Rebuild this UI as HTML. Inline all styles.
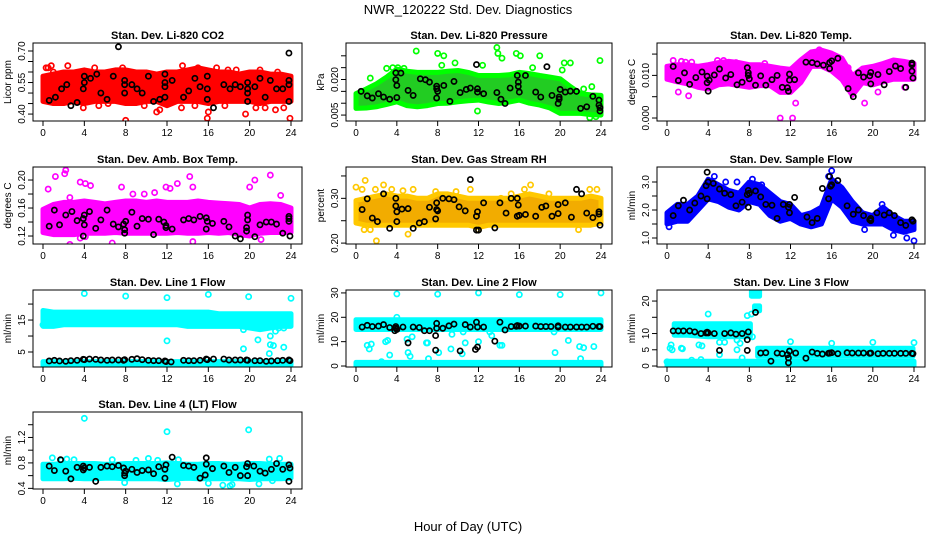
<!DOCTYPE html>
<html><head><meta charset="utf-8"><style>
body{margin:0;background:#fff}
svg{display:block;font-family:"Liberation Sans",sans-serif}
</style></head><body>
<svg id="c" width="936" height="540" viewBox="0 0 936 540">
<text x="468" y="14" font-size="13" text-anchor="middle">NWR_120222  Std. Dev. Diagnostics</text>
<text x="468" y="531" font-size="13" text-anchor="middle">Hour of Day (UTC)</text>
</svg>
<script>
// ---------- data ----------
const hours25=[0,1,2,3,4,5,6,7,8,9,10,11,12,13,14,15,16,17,18,19,20,21,22,23,24];
const xTicks=[0,4,8,12,16,20,24];

const co2Lo=[0.46,0.45,0.45,0.46,0.45,0.46,0.46,0.46,0.45,0.45,0.46,0.46,0.44,0.46,0.46,0.46,0.45,0.46,0.46,0.46,0.46,0.45,0.46,0.46,0.46];
const co2Hi=[0.58,0.59,0.60,0.60,0.61,0.60,0.60,0.61,0.61,0.60,0.60,0.59,0.60,0.60,0.61,0.62,0.61,0.60,0.60,0.59,0.60,0.60,0.59,0.59,0.58];
const co2OutT=[0.2,0.3,0.5,0.8,1.0,2.4,3.9,5.0,5.4,6.3,7.7,8.0,9.8,11.0,11.3,13.5,13.4,14.7,15.0,15.9,16.0,16.8,17.6,17.9,18.7,19.6,20.6,21.0,21.5,22.5,23.3,23.9,22.7];
const co2OutV=[0.47,0.62,0.62,0.63,0.60,0.63,0.43,0.62,0.44,0.45,0.62,0.37,0.44,0.41,0.42,0.63,0.43,0.44,0.62,0.38,0.41,0.62,0.44,0.61,0.61,0.40,0.43,0.61,0.43,0.42,0.43,0.38,0.60];
const co2BT=[0.6,1.2,1.8,2.3,2.7,3.3,3.9,4.0,4.0,4.6,5.2,5.6,6.2,6.8,7.3,7.9,7.9,7.9,8.6,9.1,9.6,10.2,10.7,11.3,11.8,11.8,11.8,11.8,12.5,13.6,14.1,14.7,15.2,15.9,15.9,15.9,16.5,17.5,18.1,18.6,19.1,19.8,19.8,19.8,19.8,20.5,21.0,21.5,22.0,22.6,23.2,23.8,23.8,23.8,23.8];
const co2BV=[0.465,0.48,0.52,0.54,0.44,0.455,0.52,0.55,0.58,0.57,0.59,0.50,0.47,0.58,0.72,0.56,0.50,0.54,0.54,0.52,0.50,0.58,0.46,0.47,0.48,0.53,0.55,0.59,0.56,0.48,0.51,0.57,0.53,0.58,0.52,0.47,0.43,0.54,0.52,0.54,0.53,0.52,0.50,0.46,0.55,0.53,0.57,0.48,0.56,0.52,0.52,0.69,0.46,0.56,0.54];

const prLo=[0.0078,0.008,0.0085,0.0095,0.0106,0.009,0.0085,0.009,0.0099,0.010,0.0106,0.011,0.0113,0.0105,0.0099,0.0105,0.0113,0.010,0.0092,0.008,0.0057,0.0057,0.0057,0.0052,0.005];
const prHi=[0.014,0.016,0.0182,0.021,0.0244,0.0235,0.023,0.023,0.023,0.0235,0.0238,0.023,0.0217,0.0217,0.0217,0.022,0.023,0.0225,0.0217,0.021,0.0203,0.017,0.014,0.0135,0.0133];
const prOutT=[5.9,8.0,8.6,8.4,9.7,12.4,13.8,13.9,14.3,15.7,16.1,18.0,17.3,20.2,20.4,21.0,23.9,22.3,23.1,11.9,22.9,23.5,3.0,3.6,4.1,4.7,1.4];
const prOutV=[0.032,0.031,0.030,0.026,0.027,0.026,0.0335,0.031,0.029,0.031,0.030,0.030,0.025,0.024,0.027,0.027,0.028,0.016,0.017,0.0067,0.0039,0.0043,0.0247,0.025,0.025,0.0247,0.0206];
const prBT=[0.5,1.1,1.6,2.2,2.7,3.3,3.9,3.9,4.0,4.0,4.4,5.1,5.6,6.3,6.8,7.2,7.9,7.9,8.0,7.9,8.6,9.2,9.6,10.2,10.8,11.2,11.8,11.9,11.9,12.5,13.8,14.2,14.6,15.1,15.8,15.9,15.9,16.0,16.6,17.6,18.1,18.7,19.2,19.8,19.9,19.9,20.0,20.5,21.0,21.6,22.0,22.6,23.2,23.8,23.8,23.9,23.9];
const prBV=[0.0150,0.0131,0.0122,0.0140,0.0126,0.0117,0.0228,0.0199,0.0175,0.0124,0.0227,0.0154,0.0133,0.0203,0.0199,0.0189,0.0172,0.0161,0.0150,0.0122,0.0175,0.0108,0.0192,0.0145,0.0158,0.0164,0.0263,0.0161,0.0147,0.0140,0.0145,0.0117,0.0099,0.0164,0.0217,0.0189,0.0171,0.0147,0.0217,0.0147,0.0126,0.0254,0.0133,0.0099,0.0126,0.0117,0.0158,0.0147,0.0151,0.0150,0.0078,0.0085,0.0129,0.0113,0.0092,0.0067,0.0081];

const tmLo=[0.0091,0.0085,0.0080,0.0072,0.0068,0.0078,0.0080,0.0076,0.0072,0.0076,0.0076,0.0060,0.0060,0.0083,0.0121,0.0121,0.0110,0.0090,0.0053,0.0083,0.0078,0.0085,0.0091,0.0091,0.0091];
const tmHi=[0.0121,0.0125,0.0125,0.0121,0.0125,0.0130,0.0133,0.0130,0.0125,0.0125,0.0121,0.0117,0.0114,0.0136,0.0155,0.0159,0.0152,0.0140,0.0099,0.0117,0.0121,0.0128,0.0136,0.0133,0.0128];
const tmOutT=[0.6,1.4,1.8,2.4,4.9,5.5,6.7,1.1,2.1,11.0,12.2,12.5,19.2,20.5,23.1,14.8,17.6,9.5];
const tmOutV=[0.0135,0.0133,0.0131,0.0131,0.0135,0.0135,0.013,0.0061,0.0052,0.0,0.0,0.0035,0.0035,0.0061,0.0072,0.0160,0.0118,0.0128];
const tmBT=[0.6,1.1,1.7,2.2,2.8,3.4,3.9,3.9,4.0,4.1,4.6,5.1,5.7,6.2,6.8,7.3,7.8,7.9,7.9,8.0,8.6,9.1,9.6,10.2,10.7,11.2,11.7,11.8,11.9,11.9,12.4,13.5,14.1,14.6,15.2,15.8,15.8,16.0,16.6,17.6,18.1,18.6,19.1,19.7,19.8,19.8,20.5,21.1,21.6,22.2,22.7,23.2,23.8,23.8,23.9,23.8];
const tmBV=[0.0121,0.0088,0.0106,0.0079,0.0095,0.0108,0.0083,0.0098,0.0063,0.0089,0.0101,0.0115,0.0094,0.0102,0.0078,0.0084,0.0118,0.0106,0.0100,0.0092,0.0077,0.0099,0.0077,0.0090,0.0100,0.0072,0.0071,0.0063,0.0089,0.0103,0.0090,0.0131,0.0130,0.0127,0.0124,0.0116,0.0130,0.0134,0.0140,0.0069,0.0050,0.0106,0.0096,0.0099,0.0107,0.0080,0.0102,0.0078,0.0109,0.0122,0.0116,0.0072,0.0129,0.0110,0.0094,0.0125];

const abLo=[0.125,0.122,0.122,0.122,0.124,0.124,0.124,0.125,0.124,0.124,0.124,0.124,0.124,0.125,0.124,0.124,0.125,0.124,0.125,0.122,0.120,0.124,0.125,0.125,0.125];
const abHi=[0.158,0.165,0.168,0.168,0.170,0.168,0.166,0.168,0.170,0.170,0.168,0.170,0.168,0.168,0.168,0.170,0.168,0.167,0.166,0.165,0.160,0.165,0.166,0.165,0.160];
const abOutT=[0.5,1.2,2.1,2.2,2.6,3.6,4.1,4.6,7.6,8.7,9.8,10.8,11.9,12.3,13.0,14.2,14.5,20.0,20.5,22.0,23.0,2.6,6.7,3.6,14.5,21.1,1.0,0.2,4.1];
const abOutV=[0.187,0.205,0.209,0.214,0.175,0.197,0.195,0.192,0.190,0.180,0.180,0.182,0.190,0.188,0.195,0.205,0.190,0.190,0.200,0.207,0.178,0.108,0.110,0.117,0.112,0.115,0.135,0.132,0.119];
const abBT=[0.6,1.1,1.6,2.2,2.8,3.3,3.9,3.9,4.0,4.0,4.5,5.1,5.6,6.2,6.8,7.3,7.8,7.9,7.9,8.0,8.6,9.1,9.6,10.2,10.7,11.2,11.7,11.9,11.9,12.5,13.6,14.1,14.6,15.2,15.8,15.8,15.9,16.4,17.5,18.0,18.6,19.1,19.7,19.8,19.8,19.7,20.5,21.0,21.6,22.1,22.6,23.2,23.8,23.8,23.9,23.8];
const abBV=[0.134,0.157,0.136,0.150,0.155,0.142,0.145,0.120,0.136,0.150,0.155,0.131,0.143,0.157,0.137,0.133,0.137,0.129,0.124,0.141,0.154,0.134,0.145,0.144,0.122,0.144,0.140,0.135,0.132,0.130,0.143,0.145,0.143,0.148,0.130,0.146,0.141,0.138,0.141,0.133,0.120,0.116,0.132,0.150,0.143,0.127,0.119,0.136,0.140,0.140,0.137,0.124,0.148,0.145,0.120,0.141];

const rhLo=[0.245,0.24,0.24,0.24,0.24,0.24,0.24,0.24,0.24,0.24,0.24,0.24,0.235,0.24,0.24,0.24,0.24,0.24,0.24,0.24,0.24,0.24,0.24,0.24,0.245];
const rhHi=[0.295,0.30,0.305,0.31,0.305,0.305,0.30,0.30,0.31,0.31,0.305,0.30,0.30,0.30,0.30,0.30,0.305,0.31,0.305,0.30,0.30,0.30,0.30,0.305,0.30];
const rhOutT=[0.0,0.6,0.9,1.9,2.7,3.5,4.6,5.6,9.8,7.8,11.2,14.2,15.2,16.5,17.1,18.9,22.9,23.6,2.0,5.1,0.8,12.0,21.8,1.4];
const rhOutV=[0.325,0.32,0.34,0.32,0.33,0.32,0.317,0.32,0.315,0.315,0.32,0.30,0.31,0.32,0.33,0.31,0.32,0.32,0.205,0.22,0.23,0.23,0.23,0.23];
const rhBT=[0.6,1.1,1.6,2.1,2.7,3.3,3.9,3.9,4.0,4.0,4.5,5.1,5.6,6.2,6.7,7.2,7.8,7.9,7.9,8.0,8.5,9.1,9.6,10.1,10.7,11.2,11.8,11.8,11.9,12.0,12.5,13.6,14.1,14.7,15.2,15.8,15.8,15.9,16.0,16.6,17.6,18.2,18.6,19.2,19.8,19.8,20.5,21.1,21.6,22.1,22.6,23.2,23.8,23.8,23.9];
const rhBV=[0.275,0.299,0.256,0.248,0.31,0.233,0.30,0.283,0.27,0.248,0.276,0.277,0.233,0.245,0.248,0.28,0.254,0.29,0.275,0.272,0.30,0.299,0.297,0.281,0.272,0.342,0.26,0.229,0.27,0.229,0.29,0.234,0.29,0.267,0.30,0.30,0.26,0.285,0.262,0.264,0.26,0.28,0.283,0.26,0.286,0.266,0.29,0.258,0.32,0.31,0.267,0.257,0.265,0.27,0.24];

const sfLo=[1.5,1.6,1.6,2.0,2.4,2.3,2.1,2.0,2.3,2.2,1.8,1.6,1.7,1.5,1.4,1.5,2.4,2.1,1.6,1.5,1.5,1.5,1.3,1.2,1.3];
const sfHi=[1.9,2.2,2.2,2.5,3.1,2.9,2.7,2.6,3.0,2.9,2.6,2.3,2.2,1.8,1.9,2.1,3.1,2.8,2.3,1.9,1.8,2.1,1.8,1.6,1.6];
const sfOutT=[4.6,5.7,6.8,8.3,9.2,16.0,15.7,12.1,23.3,24.0,19.2,22.0,0.2,6.7,20.9];
const sfOutV=[3.2,3.0,3.0,3.1,2.9,3.4,3.2,2.0,1.0,0.9,1.3,1.1,1.4,2.3,2.2];
const sfBT=[0.6,1.1,1.6,2.2,2.7,3.3,3.8,3.9,4.0,3.9,4.5,5.1,5.6,6.2,6.7,7.3,7.8,7.9,7.9,8.0,8.6,9.1,9.6,10.2,10.7,11.3,11.8,11.9,11.9,12.4,13.6,14.1,14.6,15.1,15.7,15.8,15.9,16.0,16.6,17.5,18.1,18.6,19.1,19.7,19.8,19.8,20.4,21.1,21.6,22.1,22.7,23.2,23.8,23.9];
const sfBV=[1.8,2.15,2.35,2.0,2.25,2.5,2.87,3.35,3.0,2.4,2.95,2.75,2.6,2.55,2.15,2.28,2.55,2.7,2.1,2.6,2.68,2.47,2.2,2.17,1.7,2.2,2.1,1.9,2.2,2.45,1.75,1.55,1.7,2.77,2.4,3.2,2.85,2.9,3.05,2.15,1.85,2.0,1.8,1.65,1.7,1.62,1.9,1.82,1.9,1.8,1.55,1.45,1.65,1.6];

const l1HiLo=[13,13,13.5,13.5,13.5,13.5,13.5,13.5,13.5,13.5,13.5,13.5,13.5,13.5,13,13,13,13,13,13,12.5,12,12.5,13,13];
const l1HiHi=[18,17.5,17.5,17.5,17.5,17.5,17.5,17.5,17.5,17.5,17.5,17.5,17.5,17.5,17.5,17.5,17.5,17,17,17,17,17,17,17,17];
const l1LowT=[0,24], l1LowLo=[0.8,0.8], l1LowHi=[2.0,2.0];
const l1OutT=[4.0,8.0,12.0,16.0,19.9,24.0,12.0,19.4,20.8,22.0,22.0,22.3,21.9,23.3,19.4,22.5,22.8,23.3,0.0];
const l1OutV=[23.3,22.5,22.0,23.0,22.3,21.8,8.5,6.0,8.8,10.0,7.3,7.0,4.5,6.5,12,11.5,12.5,12.5,13.5];
const l1BT=[0.6,1.1,1.6,2.2,2.7,3.3,3.9,4.0,4.5,5.1,5.6,6.2,6.7,7.3,7.8,7.9,8.6,9.1,9.6,10.2,10.7,11.2,11.8,11.9,12.4,13.6,14.1,14.6,15.2,15.8,15.9,16.5,17.5,18.0,18.6,19.1,19.7,19.8,20.5,21.0,21.6,22.1,22.7,23.2,23.8,23.9];
const l1BV=[2.2,2.4,2.2,2.1,2.3,2.4,2.7,2.6,2.8,2.7,2.5,2.4,2.5,2.5,2.4,2.6,2.7,2.9,2.6,2.4,2.3,2.3,2.2,2.0,1.9,2.4,2.3,2.3,2.4,2.8,2.6,2.8,2.8,2.5,2.5,2.5,2.5,2.4,2.3,2.3,2.1,2.2,2.3,2.4,2.5,2.3];

const l2BandT=[0,24], l2BandLo=[15,15], l2BandHi=[19,19];
const l2LowT=[0,24], l2LowLo=[0,0], l2LowHi=[1.5,1.5];
const l2OutT=[4.0,8.0,12.0,16.0,20.0,24.0,1.1,1.3,1.5,2.9,3.1,3.3,5.0,5.1,5.3,5.5,6.9,7.1,7.0,8.1,9.3,9.4,10.4,10.5,10.7,12.0,13.1,13.3,14.1,14.3,19.4,19.5,20.8,21.9,22.0,22.3,23.3,2.5,4.0];
const l2OutV=[29.6,29.5,30,29.3,29.3,30,8.5,7,9,10,10.5,4.5,11,5.5,4,12,9.5,3,9.5,5.5,7,13,5,14,9.5,10,14,12.5,8.5,8.5,14,5.5,10.5,8,3,7.5,8,1.8,20];
const l2BT=[0.6,1.1,1.6,2.2,2.7,3.3,3.8,3.9,3.9,4.0,4.6,5.1,5.6,6.2,6.7,7.2,7.8,7.8,7.9,7.9,8.5,9.1,9.6,10.2,10.7,11.2,11.7,11.8,11.9,11.9,12.5,13.6,14.1,14.6,15.2,15.7,15.8,16.0,16.6,17.6,18.1,18.6,19.1,19.8,19.8,20.5,21.0,21.6,22.1,22.6,23.2,23.8,23.9];
const l2BV=[16,16.7,16.2,16.4,17,15.8,14.5,15.5,16.2,15,16,9.5,16,15.8,14.5,14.5,6.5,12.5,17.5,15.5,15.5,16.5,17.2,6.2,17,16,6.8,18,7.8,16,16,10.2,18,14.8,16.2,16.3,16.6,16.4,16.4,16.4,16.2,16.2,16.2,16,16.5,16,16,16,16,16,16.3,16.2,16.2];

const l3AT=[0.7,2,4,6,8,8.1], l3ALo=[9.5,9.5,9,9,9,9], l3AHi=[13,13,13,13,13,13];
const l3BT=[8.8,10,12,14,16,18,20,22,23.9], l3BLo=[3,3,3,3,3,3,3,3,3], l3BHi=[5.5,5.5,5.5,5.5,5.5,5.5,5.5,5.5,5.5];
const l3CT=[0,24], l3CLo=[0,0], l3CHi=[1.5,1.5];
const l3DT=[8.2,9.0], l3DLo=[21.5,21.5], l3DHi=[23,23];
const l3ET=[8.5,9.0], l3ELo=[17,17], l3EHi=[18.5,18.5];
const l3OutT=[0.0,0.3,0.4,0.5,1.4,1.5,3.1,3.4,3.3,2.4,4.0,5.1,5.6,5.1,6.8,6.8,7.1,7.3,7.8,8.2,8.3,12.0,16.0,20.0,24.0,13.4,10.0];
const l3OutV=[1.3,5.5,6.5,5,5.5,5.3,6.5,6.2,2,1.8,16,7.3,7.3,3.5,5,8,7,2.5,15.5,16,9,7.5,7,7.3,7.2,2.5,1.8];
const l3BlT=[0.6,1.1,1.6,2.2,2.7,3.3,3.8,3.9,4.0,4.6,5.1,5.6,6.2,6.7,7.3,7.8,7.8,7.9,8.6,9.1,9.6,10.1,10.7,11.2,11.7,11.8,11.8,11.9,12.5,13.5,14.1,14.6,15.1,15.7,15.8,16.0,16.6,17.5,18.0,18.6,19.1,19.7,19.8,20.5,21.0,21.6,22.1,22.7,23.2,23.8,23.9];
const l3BlV=[10.8,10.8,10.8,10.8,10.5,10,10.2,10.4,10.2,10,4.8,10,10.2,9.8,10,8.1,4.8,10.5,16.5,4,4.1,1.5,4,3.8,3.5,1,2.5,4.6,4,2.4,4.3,3.9,3.7,3.9,4,4.1,3.8,4.1,4,4,4,3.9,4,3.8,3.9,3.9,3.9,3.9,3.9,3.9,3.8];

const l4Lo=[0.55,0.55,0.55,0.56,0.55,0.55,0.56,0.56,0.55,0.55,0.55,0.55,0.54,0.55,0.56,0.55,0.55,0.55,0.55,0.55,0.54,0.55,0.55,0.55,0.56];
const l4Hi=[0.78,0.78,0.79,0.79,0.79,0.79,0.78,0.78,0.79,0.79,0.79,0.79,0.80,0.79,0.78,0.78,0.79,0.79,0.78,0.78,0.79,0.79,0.78,0.78,0.78];
const l4OutT=[4.0,12.0,19.9,0.9,2.3,3.0,6.7,10.2,11.1,13.1,21.9,22.9,13.0,16.0,17.4,18.3,18.1,20.9,7.9,22.2,1.8,9.0];
const l4OutV=[1.5,1.29,1.32,0.88,0.86,0.85,0.85,0.87,0.84,0.85,0.86,0.87,0.47,0.48,0.45,0.46,0.44,0.47,0.49,0.52,0.84,0.84];
const l4BT=[0.6,1.1,1.7,2.2,2.7,3.3,3.9,3.9,4.0,4.5,5.1,5.6,6.2,6.7,7.3,7.8,7.9,7.9,8.0,8.6,9.1,9.6,10.2,10.7,11.2,11.8,11.8,11.9,12.5,13.6,14.1,14.6,15.2,15.7,15.8,15.8,16.4,17.5,18.0,18.6,19.1,19.7,19.8,19.8,20.4,21.0,21.5,22.1,22.6,23.2,23.8,23.8,23.9];
const l4BV=[0.75,0.68,0.85,0.67,0.55,0.73,0.75,0.69,0.72,0.73,0.51,0.73,0.75,0.74,0.76,0.72,0.60,0.64,0.67,0.70,0.65,0.68,0.69,0.63,0.74,0.70,0.56,0.77,0.89,0.76,0.75,0.73,0.56,0.61,0.78,0.88,0.71,0.75,0.65,0.73,0.60,0.74,0.79,0.60,0.75,0.67,0.64,0.70,0.79,0.70,0.51,0.77,0.72];

// ---------- drawing ----------
const NS='http://www.w3.org/2000/svg';
const svg=document.getElementById('c');
function mk(tag,attrs,parent){const e=document.createElementNS(NS,tag);for(const k in attrs)e.setAttribute(k,attrs[k]);(parent||svg).appendChild(e);return e;}
const colL=[33,346,657], colR=[302,612,925];
const rowT=[43,167,290,412], rowB=[121,244,367,489];

function panel(o){
  const L=colL[o.col],R=colR[o.col],T=rowT[o.row],B=rowB[o.row];
  const x0=L+10,x24=R-11;
  const xs=t=>x0+(t/24)*(x24-x0);
  const ys=v=>B-(v-o.ymin)/(o.ymax-o.ymin)*(B-T);
  const g=mk('g',{});
  
  
  const tt=mk('text',{x:(L+R)/2,y:T-4,'font-size':11,'font-weight':'bold','text-anchor':'middle'},g);
  tt.textContent=o.title;
  
  
  const cp='cp'+o.name;
  const cl=mk('clipPath',{id:cp},g);mk('rect',{x:L,y:T,width:R-L,height:B-T},cl);
  const pg=mk('g',{'clip-path':'url(#'+cp+')'},g);
  o.bands.forEach((b,bi)=>{
    let d='';
    b.t.forEach((t,i)=>{d+=(i?'L':'M')+xs(t).toFixed(1)+' '+ys(b.hi[i]).toFixed(1);});
    for(let i=b.t.length-1;i>=0;i--)d+='L'+xs(b.t[i]).toFixed(1)+' '+ys(b.lo[i]).toFixed(1);
    const p=mk('path',{d:d+'Z',fill:o.band,stroke:o.pt,'stroke-width':5,'stroke-linejoin':'round'},pg);
    
    
  });
  o.outT.forEach((t,i)=>{
    const c=mk('circle',{cx:xs(t),cy:ys(o.outV[i]),r:2.6,fill:'none',stroke:o.pt,'stroke-width':1.7},pg);
    
    
  });
  o.bT.forEach((t,i)=>{
    const c=mk('circle',{cx:xs(t),cy:ys(o.bV[i]),r:2.6,fill:'none',stroke:'#000','stroke-width':1.7},pg);
    
    
  });
  mk('rect',{x:L,y:T,width:R-L,height:B-T,fill:'none',stroke:'#000','stroke-width':1},g);
  xTicks.forEach(t=>{
    mk('line',{x1:xs(t),x2:xs(t),y1:B,y2:B+5,stroke:'#000'},g);
    const tx=mk('text',{x:xs(t),y:B+15,'font-size':10,'text-anchor':'middle'},g);
    tx.textContent=t;
    
    
  });
  o.yTicks.forEach(v=>{
    mk('line',{x1:L,x2:L-5,y1:ys(v),y2:ys(v),stroke:'#000'},g);
  });
  o.yLabels.forEach(v=>{
    const y=ys(parseFloat(v));
    const tx=mk('text',{x:L-8,y:y,'font-size':10,'text-anchor':'middle',transform:'rotate(-90 '+(L-8)+' '+y+')'},g);
    tx.textContent=v;
    
    
  });
  const yc=(T+B)/2;
  const yt=mk('text',{x:L-22,y:yc,'font-size':10,'text-anchor':'middle',transform:'rotate(-90 '+(L-22)+' '+yc+')'},g);
  yt.textContent=o.ytitle;
  
  
}

panel({name:'co2',title:'Stan. Dev. Li-820 CO2',row:0,col:0,ymin:0.367,ymax:0.738,ytitle:'Licor ppm',
  yTicks:[0.40,0.45,0.50,0.55,0.60,0.65,0.70],yLabels:['0.40','0.55','0.70'],band:'#ff0000',pt:'#ff0000',
  bands:[{t:hours25,lo:co2Lo,hi:co2Hi}],outT:co2OutT,outV:co2OutV,bT:co2BT,bV:co2BV});
panel({name:'pressure',title:'Stan. Dev. Li-820 Pressure',row:0,col:1,ymin:0.0025,ymax:0.0354,ytitle:'kPa',
  yTicks:[0.005,0.010,0.015,0.020,0.025,0.030],yLabels:['0.005','0.020'],band:'#22cc22',pt:'#00ff00',
  bands:[{t:hours25,lo:prLo,hi:prHi}],outT:prOutT,outV:prOutV,bT:prBT,bV:prBV});
panel({name:'li820-temp',title:'Stan. Dev. Li-820 Temp.',row:0,col:2,ymin:-0.0007,ymax:0.0176,ytitle:'degrees C',
  yTicks:[0,0.005,0.010,0.015],yLabels:['0.000','0.010'],band:'#ff00ff',pt:'#ff00ff',
  bands:[{t:hours25,lo:tmLo,hi:tmHi}],outT:tmOutT,outV:tmOutV,bT:tmBT,bV:tmBV});
panel({name:'amb-temp',title:'Stan. Dev. Amb. Box Temp.',row:1,col:0,ymin:0.1086,ymax:0.2186,ytitle:'degrees C',
  yTicks:[0.12,0.14,0.16,0.18,0.20],yLabels:['0.12','0.16','0.20'],band:'#ff00ff',pt:'#ff00ff',
  bands:[{t:hours25,lo:abLo,hi:abHi}],outT:abOutT,outV:abOutV,bT:abBT,bV:abBV});
panel({name:'gas-rh',title:'Stan. Dev. Gas Stream RH',row:1,col:1,ymin:0.198,ymax:0.370,ytitle:'percent',
  yTicks:[0.20,0.25,0.30,0.35],yLabels:['0.20','0.30'],band:'#f2ac00',pt:'#ffc800',
  bands:[{t:hours25,lo:rhLo,hi:rhHi}],outT:rhOutT,outV:rhOutV,bT:rhBT,bV:rhBV});
panel({name:'sample-flow',title:'Stan. Dev. Sample Flow',row:1,col:2,ymin:0.786,ymax:3.536,ytitle:'ml/min',
  yTicks:[1.0,1.5,2.0,2.5,3.0],yLabels:['1.0','2.0','3.0'],band:'#0000ff',pt:'#0000ff',
  bands:[{t:hours25,lo:sfLo,hi:sfHi}],outT:sfOutT,outV:sfOutV,bT:sfBT,bV:sfBV});
panel({name:'line1-flow',title:'Stan. Dev. Line 1 Flow',row:2,col:0,ymin:0.31,ymax:24.4,ytitle:'ml/min',
  yTicks:[5,10,15,20],yLabels:['5','15'],band:'#00ffff',pt:'#00ffff',
  bands:[{t:hours25,lo:l1HiLo,hi:l1HiHi},{t:l1LowT,lo:l1LowLo,hi:l1LowHi}],outT:l1OutT,outV:l1OutV,bT:l1BT,bV:l1BV});
panel({name:'line2-flow',title:'Stan. Dev. Line 2 Flow',row:2,col:1,ymin:-0.4,ymax:31.2,ytitle:'ml/min',
  yTicks:[0,10,20,30],yLabels:['0','10','20','30'],band:'#00ffff',pt:'#00ffff',
  bands:[{t:l2BandT,lo:l2BandLo,hi:l2BandHi},{t:l2LowT,lo:l2LowLo,hi:l2LowHi}],outT:l2OutT,outV:l2OutV,bT:l2BT,bV:l2BV});
panel({name:'line3-flow',title:'Stan. Dev. Line 3 Flow',row:2,col:2,ymin:-0.3,ymax:23.4,ytitle:'ml/min',
  yTicks:[0,5,10,15,20],yLabels:['0','5','10','20'],band:'#00ffff',pt:'#00ffff',
  bands:[{t:l3AT,lo:l3ALo,hi:l3AHi},{t:l3BT,lo:l3BLo,hi:l3BHi},{t:l3CT,lo:l3CLo,hi:l3CHi},{t:l3DT,lo:l3DLo,hi:l3DHi},{t:l3ET,lo:l3ELo,hi:l3EHi}],
  outT:l3OutT,outV:l3OutV,bT:l3BlT,bV:l3BlV});
panel({name:'line4-flow',title:'Stan. Dev. Line 4 (LT) Flow',row:3,col:0,ymin:0.39,ymax:1.6,ytitle:'ml/min',
  yTicks:[0.4,0.6,0.8,1.0,1.2,1.4],yLabels:['0.4','0.8','1.2'],band:'#00ffff',pt:'#00ffff',
  bands:[{t:hours25,lo:l4Lo,hi:l4Hi}],outT:l4OutT,outV:l4OutV,bT:l4BT,bV:l4BV});
</script>
</body></html>
